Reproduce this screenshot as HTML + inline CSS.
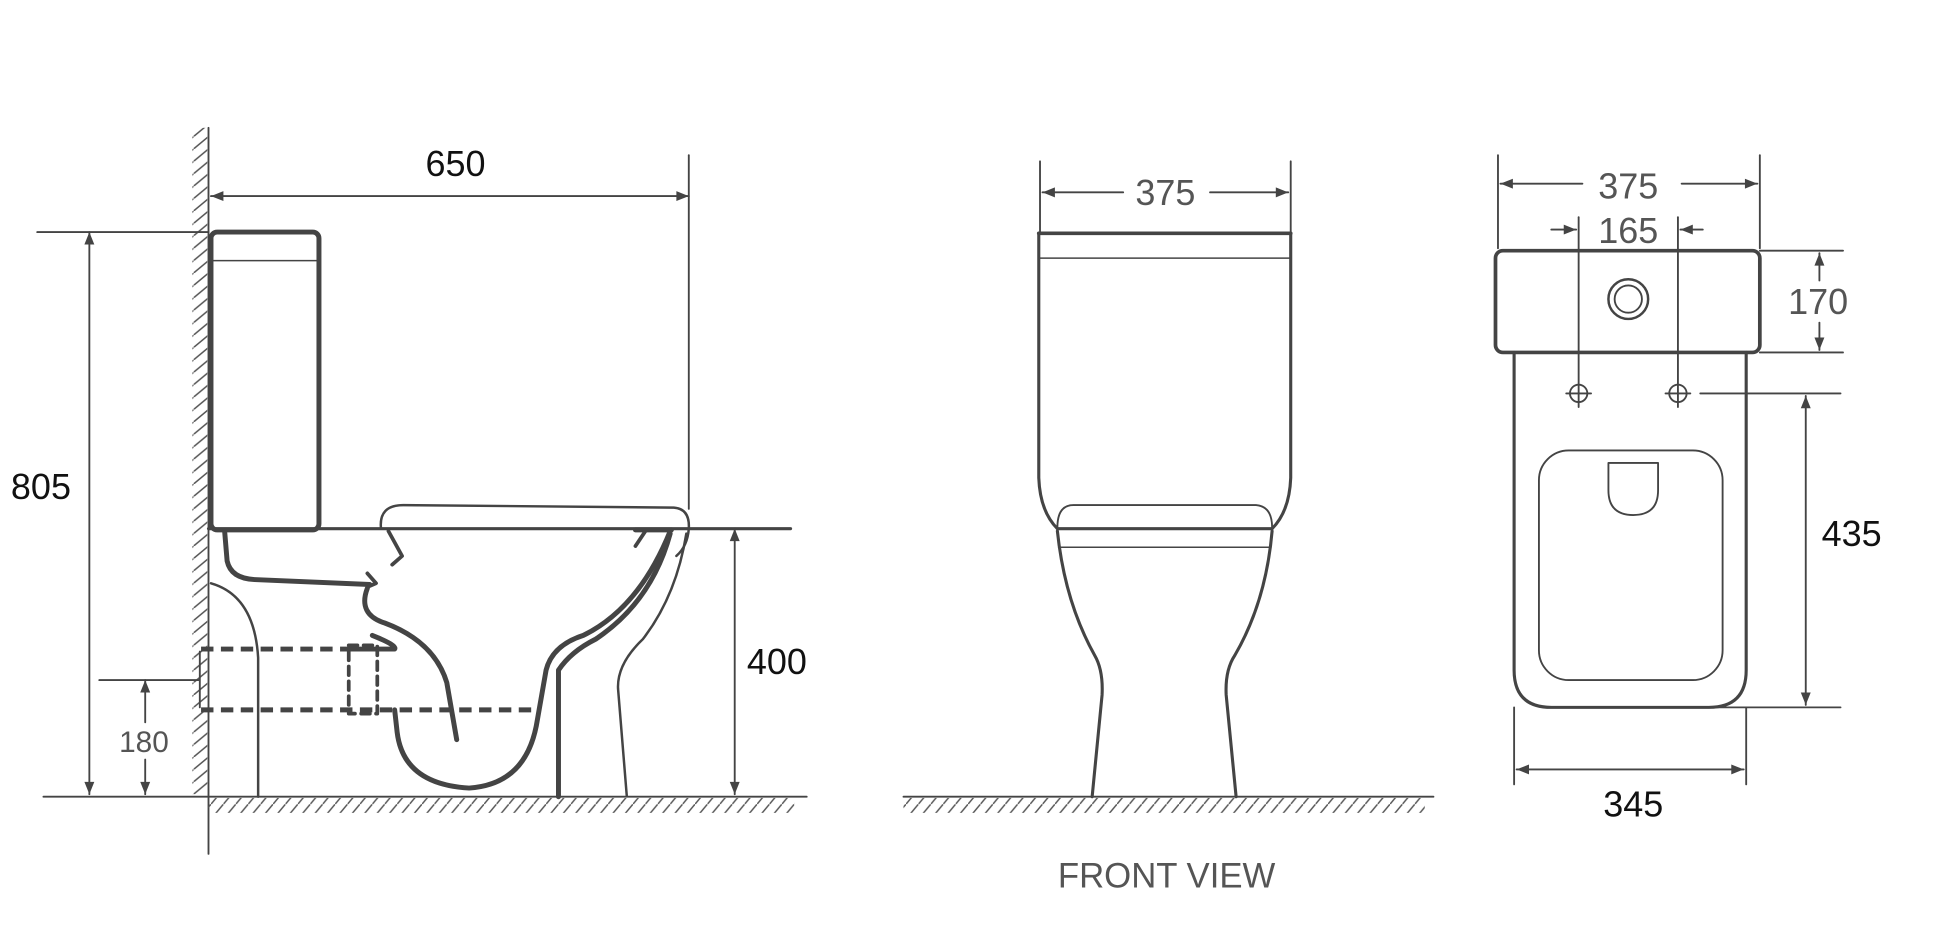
<!DOCTYPE html>
<html><head><meta charset="utf-8"><style>
html,body{margin:0;padding:0;background:#fff;width:1946px;height:950px;overflow:hidden}
svg{display:block}
text{font-family:"Liberation Sans",Arial,sans-serif}
</style></head><body>
<svg width="1946" height="950" viewBox="0 0 1568 765.5" preserveAspectRatio="none" xmlns="http://www.w3.org/2000/svg">
<defs>
<marker id="a" viewBox="0 0 10 10" refX="10" refY="5" markerWidth="15" markerHeight="10" markerUnits="userSpaceOnUse" orient="auto-start-reverse"><path d="M0,1 L10,5 L0,9 z" fill="#444"/></marker>
<pattern id="hf" width="10" height="12" patternUnits="userSpaceOnUse"><line x1="0" y1="12" x2="10" y2="0" stroke="#555" stroke-width="1.2"/></pattern>
<pattern id="hw" width="12" height="10" patternUnits="userSpaceOnUse"><line x1="0" y1="10" x2="12" y2="0" stroke="#555" stroke-width="1.2"/></pattern>
</defs>
<g fill="none" stroke="#444" stroke-linecap="round" stroke-linejoin="round">
<rect x="155" y="103" width="12" height="537" fill="url(#hw)" stroke="none"/>
<line x1="168" y1="103" x2="168" y2="688" stroke-width="1.5"/>
<rect x="168" y="643" width="472" height="12" fill="url(#hf)" stroke="none"/>
<line x1="35" y1="642" x2="650" y2="642" stroke-width="1.5"/>
<line x1="170" y1="158" x2="555" y2="158" stroke-width="1.5" marker-start="url(#a)" marker-end="url(#a)"/>
<line x1="555" y1="125" x2="555" y2="410" stroke-width="1.5"/>
<rect x="170" y="187" width="87" height="240" rx="5" stroke-width="4"/>
<line x1="172" y1="210" x2="255" y2="210" stroke-width="1.2"/>
<line x1="30" y1="187" x2="168" y2="187" stroke-width="1.5"/>
<line x1="72" y1="187" x2="72" y2="640" stroke-width="1.5" marker-start="url(#a)" marker-end="url(#a)"/>
<line x1="168" y1="426" x2="637" y2="426" stroke-width="2.5"/>
<line x1="592" y1="426" x2="592" y2="640" stroke-width="1.5" marker-start="url(#a)" marker-end="url(#a)"/>
<line x1="80" y1="548" x2="160" y2="548" stroke-width="1.5"/>
<line x1="117" y1="548" x2="117" y2="582" stroke-width="1.5" marker-start="url(#a)"/>
<line x1="117" y1="612" x2="117" y2="640" stroke-width="1.5" marker-end="url(#a)"/>
<path d="M307,426 Q305,407 325,407 L543,409 Q556,410 555,426 Q554,440 545,448" stroke-width="2"/>
<path d="M181,428 L183,452 Q186,466 205,467 L298,471" stroke-width="4"/>
<path d="M296,462 L303,470 L296,473" stroke-width="3"/>
<path d="M313,428 L324,448 L316,455" stroke-width="3"/>
<path d="M520,428 L512,440" stroke-width="3"/>
<path d="M512,427 L541,427" stroke-width="4"/>
<path d="M296,474 Q288,495 310,502 Q350,517 360,550 L368,596" stroke-width="4"/>
<path d="M300,512 Q320,520 318,523 L283,523" stroke-width="4"/>
<path d="M318,572 L320,590 Q325,632 378,635 Q425,632 433,580 L440,540 Q445,520 470,512 Q515,490 540,428" stroke-width="4"/>
<path d="M450,642 L450,540 Q460,525 480,515 Q525,485 540,430" stroke-width="4"/>
<path d="M505,641 L498,555 Q497,535 518,515 Q545,480 553,430" stroke-width="2"/>
<path d="M170,470 Q205,480 208,530 L208,642" stroke-width="2"/>
<path d="M162,523 L283,523" stroke-width="4" stroke-dasharray="10,6" stroke-linecap="butt"/>
<path d="M162,572 L430,572" stroke-width="4" stroke-dasharray="10,6" stroke-linecap="butt"/>
<line x1="161" y1="525" x2="161" y2="570" stroke-width="1.5"/>
<rect x="281" y="520" width="23" height="55" stroke-width="3" stroke-dasharray="7,5"/>
<line x1="838" y1="130" x2="838" y2="187" stroke-width="1.5"/>
<line x1="1040" y1="130" x2="1040" y2="187" stroke-width="1.5"/>
<line x1="840" y1="155" x2="905" y2="155" stroke-width="1.5" marker-start="url(#a)"/>
<line x1="975" y1="155" x2="1038" y2="155" stroke-width="1.5" marker-end="url(#a)"/>
<line x1="837" y1="188" x2="1040" y2="188" stroke-width="3"/>
<line x1="838" y1="208" x2="1040" y2="208" stroke-width="1.2"/>
<path d="M837,188 L837,385 Q838,412 852,426" stroke-width="2.5"/>
<path d="M1040,188 L1040,385 Q1039,412 1025,426" stroke-width="2.5"/>
<path d="M852,425 Q852,407 865,407 L1012,407 Q1025,408 1025,425" stroke-width="1.5"/>
<line x1="852" y1="426" x2="1025" y2="426" stroke-width="2.5"/>
<line x1="853" y1="441" x2="1024" y2="441" stroke-width="1.2"/>
<path d="M852,428 Q858,485 882,528 Q889,540 888,560 L880,642" stroke-width="2.5"/>
<path d="M1025,428 Q1020,485 995,528 Q987,540 988,560 L996,642" stroke-width="2.5"/>
<rect x="728" y="643" width="420" height="12" fill="url(#hf)" stroke="none"/>
<line x1="728" y1="642" x2="1155" y2="642" stroke-width="1.5"/>
<line x1="1207" y1="125" x2="1207" y2="200" stroke-width="1.5"/>
<line x1="1418" y1="125" x2="1418" y2="200" stroke-width="1.5"/>
<line x1="1209" y1="148" x2="1275" y2="148" stroke-width="1.5" marker-start="url(#a)"/>
<line x1="1355" y1="148" x2="1416" y2="148" stroke-width="1.5" marker-end="url(#a)"/>
<line x1="1272" y1="175" x2="1272" y2="328" stroke-width="1.5"/>
<line x1="1352" y1="175" x2="1352" y2="328" stroke-width="1.5"/>
<line x1="1250" y1="185" x2="1270" y2="185" stroke-width="1.5" marker-end="url(#a)"/>
<line x1="1372" y1="185" x2="1354" y2="185" stroke-width="1.5" marker-end="url(#a)"/>
<rect x="1205" y="202" width="213" height="82" rx="6" stroke-width="3"/>
<circle cx="1312" cy="241" r="16" stroke-width="2"/>
<circle cx="1312" cy="241" r="11" stroke-width="1.5"/>
<line x1="1418" y1="202" x2="1485" y2="202" stroke-width="1.5"/>
<line x1="1418" y1="284" x2="1485" y2="284" stroke-width="1.5"/>
<line x1="1466" y1="204" x2="1466" y2="226" stroke-width="1.5" marker-start="url(#a)"/>
<line x1="1466" y1="260" x2="1466" y2="282" stroke-width="1.5" marker-end="url(#a)"/>
<path d="M1220,284 L1220,540 Q1220,570 1250,570 L1377,570 Q1407,570 1407,540 L1407,284" stroke-width="2.5"/>
<circle cx="1272" cy="317" r="7" stroke-width="1.5"/>
<line x1="1262" y1="317" x2="1282" y2="317" stroke-width="1.5"/>
<circle cx="1352" cy="317" r="7" stroke-width="1.5"/>
<line x1="1342" y1="317" x2="1362" y2="317" stroke-width="1.5"/>
<line x1="1370" y1="317" x2="1483" y2="317" stroke-width="1.5"/>
<rect x="1240" y="363" width="148" height="185" rx="24" stroke-width="1.5"/>
<path d="M1296,373 L1336,373 L1336,395 Q1336,415 1316,415 Q1296,415 1296,395 Z" stroke-width="1.5"/>
<line x1="1455" y1="319" x2="1455" y2="568" stroke-width="1.5" marker-start="url(#a)" marker-end="url(#a)"/>
<line x1="1380" y1="570" x2="1483" y2="570" stroke-width="1.5"/>
<line x1="1220" y1="570" x2="1220" y2="632" stroke-width="1.5"/>
<line x1="1407" y1="570" x2="1407" y2="632" stroke-width="1.5"/>
<line x1="1222" y1="620" x2="1405" y2="620" stroke-width="1.5" marker-start="url(#a)" marker-end="url(#a)"/>
</g>
<g font-size="29" text-anchor="middle">
<text x="367" y="142" fill="#111">650</text>
<text x="33" y="402" fill="#111">805</text>
<text x="626" y="543" fill="#111">400</text>
<text x="116" y="606" fill="#555" font-size="24">180</text>
<text x="939" y="165" fill="#555">375</text>
<text x="1312" y="160" fill="#555">375</text>
<text x="1312" y="196" fill="#555">165</text>
<text x="1465" y="253" fill="#555">170</text>
<text x="1492" y="440" fill="#111">435</text>
<text x="1316" y="658" fill="#111">345</text>
<text x="940" y="715" fill="#555" font-size="28">FRONT VIEW</text>
</g>
</svg>
</body></html>
